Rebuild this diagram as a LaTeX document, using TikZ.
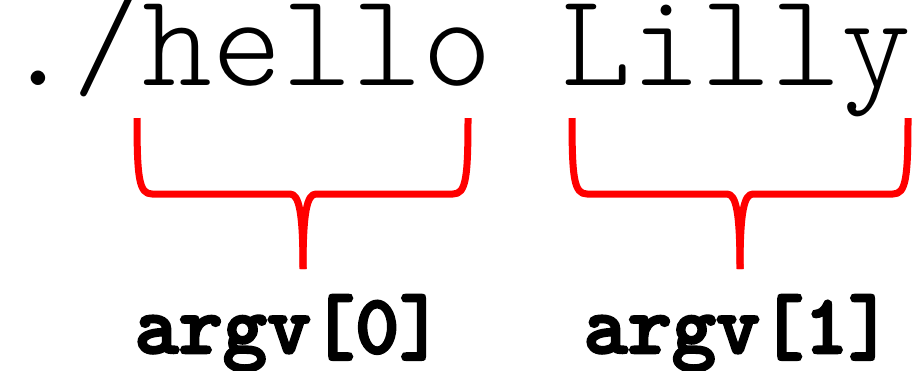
\documentclass[tikz,border=0pt]{standalone}
\usepackage{fontspec}
\newfontfamily\cmdfont{Latin Modern Mono Light}
\newfontfamily\lblfont[BoldFeatures={FakeBold=3}]{Latin Modern Mono Light}
\begin{document}
\begin{tikzpicture}[x=1pt,y=-1pt,
  cmd/.style={font=\cmdfont\fontsize{133}{133}\selectfont, inner sep=0pt, anchor=base, text height=75pt, text depth=20pt},
  lbl/.style={font=\lblfont\bfseries\fontsize{84}{84}\selectfont, inner sep=0pt, anchor=base},
  brace/.style={draw=red, line width=7pt, line cap=butt, line join=round}]
\useasboundingbox (0,0) rectangle (915,370);
\node[cmd] (cmdline) at (457,85) {./hello Lilly};
\coordinate (b0tl) at (137,118);
\coordinate (b0tr) at (468,118);
\coordinate (b0tip) at (303,269);
\coordinate (b1tl) at (572,118);
\coordinate (b1tr) at (908,118);
\coordinate (b1tip) at (740,269);
\draw[brace] (b0tl) .. controls (137,178) and (139,194) .. (152,194) -- (290,194)
  .. controls (299,194) and (303,212) .. (b0tip);
\draw[brace] (b0tr) .. controls (468,178) and (466,194) .. (453,194) -- (316,194)
  .. controls (307,194) and (303,212) .. (b0tip);
\draw[brace] (b1tl) .. controls (572,178) and (574,194) .. (587,194) -- (727,194)
  .. controls (736,194) and (740,212) .. (b1tip);
\draw[brace] (b1tr) .. controls (908,178) and (906,194) .. (893,194) -- (753,194)
  .. controls (744,194) and (740,212) .. (b1tip);
\node[lbl] (arg0) at (289,353) {argv[0]};
\node[lbl] (arg1) at (738,353) {argv[1]};
\end{tikzpicture}
\end{document}
